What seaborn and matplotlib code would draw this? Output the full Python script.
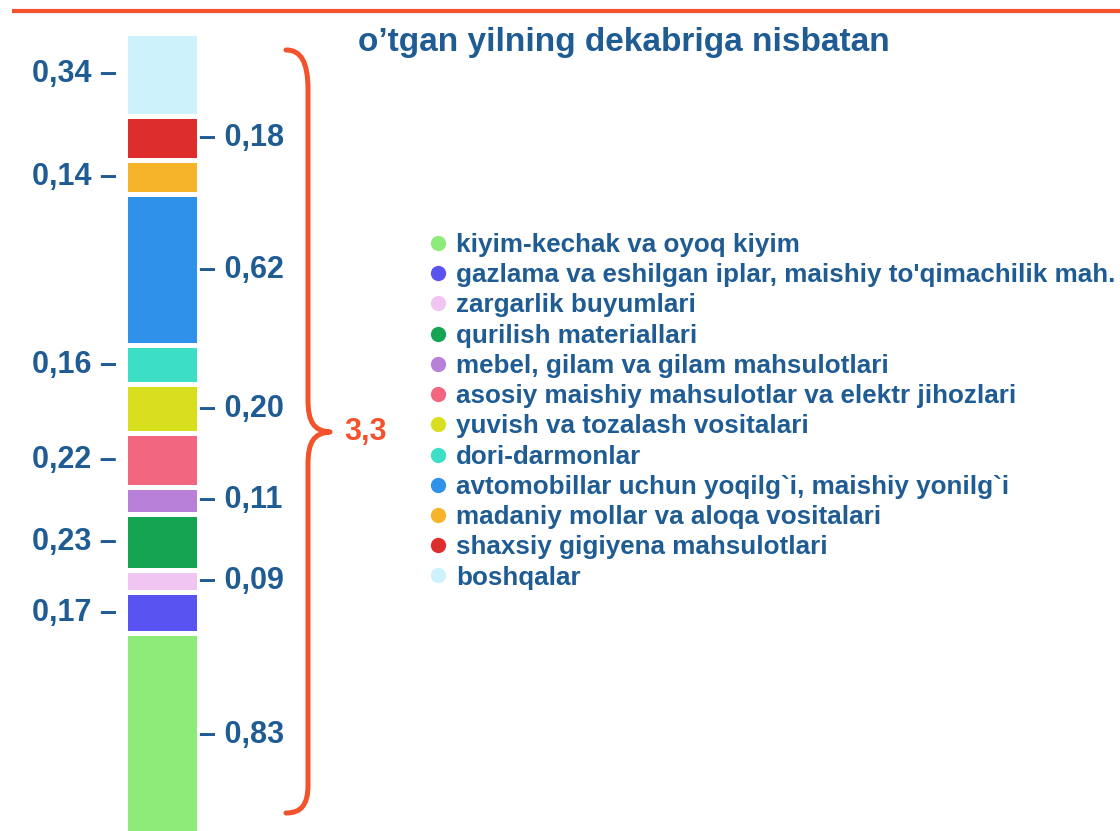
import matplotlib.pyplot as plt
import seaborn as sns
import pandas as pd
from matplotlib.lines import Line2D
from matplotlib.path import Path
from matplotlib.patches import PathPatch

# stack order: bottom -> top (same order as the legend)
categories = [
    "kiyim-kechak va oyoq kiyim",
    "gazlama va eshilgan iplar, maishiy to'qimachilik mah.",
    "zargarlik buyumlari",
    "qurilish materiallari",
    "mebel, gilam va gilam mahsulotlari",
    "asosiy maishiy mahsulotlar va elektr jihozlari",
    "yuvish va tozalash vositalari",
    "dori-darmonlar",
    "avtomobillar uchun yoqilg`i, maishiy yonilg`i",
    "madaniy mollar va aloqa vositalari",
    "shaxsiy gigiyena mahsulotlari",
    "boshqalar",
]
values = [0.83, 0.17, 0.09, 0.23, 0.11, 0.22, 0.20, 0.16, 0.62, 0.14, 0.18, 0.34]
colors = ["#8deb79", "#5953f2", "#f1c5f2", "#15a552", "#b980da", "#f2677f",
          "#d8df1f", "#3ddec6", "#2f91e9", "#f6b42b", "#dd2d2c", "#cdf2fc"]
label_side = ["right", "left", "right", "left", "right", "left",
              "right", "left", "right", "left", "right", "left"]
total_label = "3,3"
title = "o\u2019tgan yilning dekabriga nisbatan"

TXT = "#1f5c94"
ORANGE = "#f4522d"

sns.set_style("white")
plt.rcParams["font.family"] = ["Liberation Sans", "DejaVu Sans"]
plt.rcParams["font.weight"] = "bold"

fig = plt.figure(figsize=(11.2, 8.31), dpi=100)

# decoration layer in pixel coordinates
deco = fig.add_axes([0, 0, 1, 1])
deco.set_xlim(0, 1120)
deco.set_ylim(831, 0)
deco.axis("off")
deco.plot([12, 1120], [11, 11], color=ORANGE, lw=3, solid_capstyle="butt")

verts = [(286, 50), (301, 50), (308, 62), (308, 90),
         (308, 400),
         (308, 422), (314, 431), (330, 432),
         (314, 433), (308, 442), (308, 464),
         (308, 785),
         (308, 805), (301, 813), (286, 813)]
codes = [Path.MOVETO, Path.CURVE4, Path.CURVE4, Path.CURVE4,
         Path.LINETO,
         Path.CURVE4, Path.CURVE4, Path.CURVE4,
         Path.CURVE4, Path.CURVE4, Path.CURVE4,
         Path.LINETO,
         Path.CURVE4, Path.CURVE4, Path.CURVE4]
deco.add_patch(PathPatch(Path(verts, codes), fill=False, edgecolor=ORANGE,
                         lw=3.6, capstyle="round", joinstyle="round"))
deco.text(344, 432, total_label, color=ORANGE, fontsize=22, fontweight="bold",
          ha="left", va="center")

fig.text(358 / 1120, 1 - 42 / 831, title, color=TXT, fontsize=24,
         fontweight="bold", ha="left", va="center")

# the stacked bar
ax = fig.add_axes([125 / 1120, 0, 74 / 1120, 798 / 831])
bottom = 0.0
for name, v, c, side in zip(categories, values, colors, label_side):
    df = pd.DataFrame({"grp": ["all"], "val": [v]})
    sns.barplot(data=df, x="grp", y="val", color=c, width=1, bottom=bottom,
                edgecolor="white", linewidth=3.6, saturation=1, ax=ax)
    mid = bottom + v / 2
    txt = f"{v:.2f}".replace(".", ",")
    if side == "left":
        ax.annotate(f"{txt} \u2013", xy=(0, mid), xycoords=("axes fraction", "data"),
                    xytext=(-6, 0), textcoords="offset points", ha="right",
                    va="center", color=TXT, fontsize=22, fontweight="bold",
                    annotation_clip=False)
    else:
        ax.annotate(f"\u2013 {txt}", xy=(1, mid), xycoords=("axes fraction", "data"),
                    xytext=(0, 0), textcoords="offset points", ha="left",
                    va="center", color=TXT, fontsize=22, fontweight="bold",
                    annotation_clip=False)
    bottom += v

ax.set_xlim(-0.5, 0.5)
ax.set_ylim(0.02, bottom)
ax.axis("off")

handles = [Line2D([], [], marker="o", ls="", markersize=11, color=c,
                  markeredgewidth=0) for c in colors]
fig.legend(handles, categories, loc="upper left",
           bbox_to_anchor=(430 / 1120, 1 - 233 / 831), frameon=False,
           fontsize=18.7, labelcolor=TXT, handlelength=0.6, handletextpad=0.4,
           labelspacing=0.24, borderpad=0, borderaxespad=0)

fig.savefig("out.png", dpi=100, facecolor="white")
